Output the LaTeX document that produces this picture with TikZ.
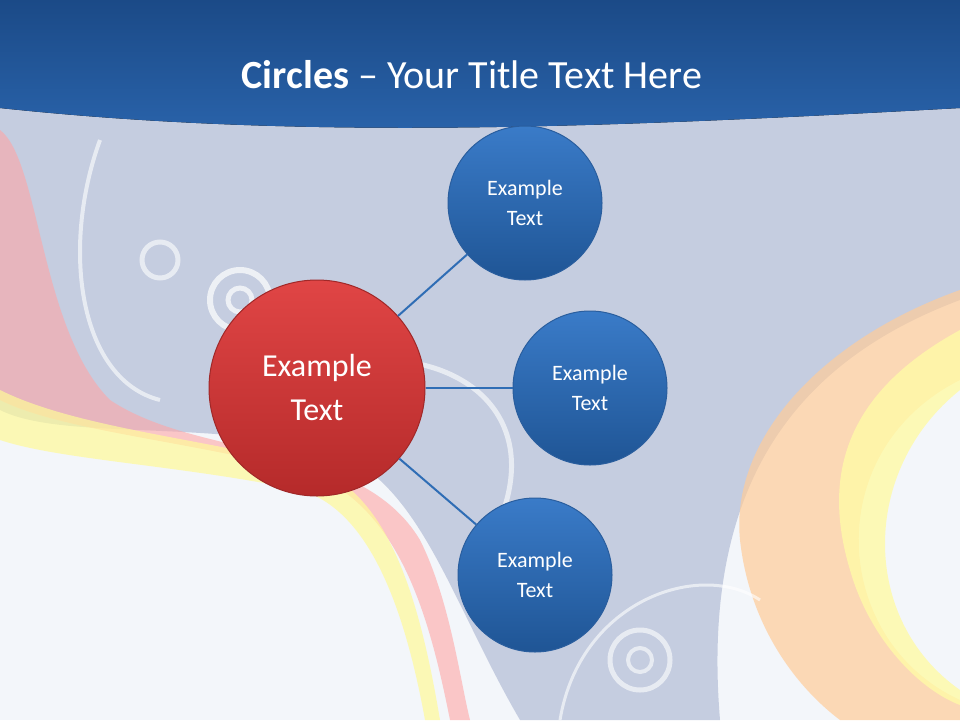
\documentclass[tikz,border=0pt]{standalone}
\usepackage{fontspec}
\setmainfont{Carlito}
\definecolor{hdrA}{HTML}{1B4A87}
\definecolor{hdrB}{HTML}{2A64AC}
\definecolor{cbA}{HTML}{3A7BC8}
\definecolor{cbB}{HTML}{1F5595}
\definecolor{cbE}{HTML}{2A5E9E}
\definecolor{crA}{HTML}{E04545}
\definecolor{crB}{HTML}{B52A2A}
\definecolor{crE}{HTML}{A02828}
\definecolor{bgG}{HTML}{C5CDE0}
\definecolor{bgW}{HTML}{F3F6FA}
\definecolor{lnk}{HTML}{2F6DB5}
\begin{document}
\begin{tikzpicture}[x=1pt,y=-1pt,
  bluec/.style={circle,minimum size=154pt,inner sep=0pt,draw=cbE,line width=1pt,top color=cbA,bottom color=cbB,text=white,align=center,font=\fontsize{22}{30}\selectfont},
  redc/.style={circle,minimum size=216pt,inner sep=0pt,draw=crE,line width=1pt,top color=crA,bottom color=crB,text=white,align=center,font=\fontsize{32}{44}\selectfont},
  link/.style={draw=lnk,line width=2pt}]
\useasboundingbox (0,0) rectangle (960,720);
% background
\fill[bgW] (0,0) rectangle (960,720);
\fill[bgG] (0,100) -- (960,100) -- (960,300) .. controls (800,360) and (700,480) .. (720,720) -- (520,720) .. controls (450,600) and (420,480) .. (330,450) .. controls (200,420) and (60,440) .. (0,410) -- cycle;
% left colored bands
\fill[red!35!white,opacity=0.6] (0,130) .. controls (40,160) and (40,330) .. (110,400) .. controls (200,460) and (360,440) .. (420,540) .. controls (450,600) and (460,680) .. (470,720) -- (450,720) .. controls (430,620) and (400,500) .. (300,470) .. controls (180,440) and (60,430) .. (0,400) -- cycle;
\fill[yellow!40!white,opacity=0.7] (0,390) .. controls (80,430) and (220,440) .. (320,470) .. controls (390,500) and (420,600) .. (440,720) -- (425,720) .. controls (405,610) and (370,510) .. (300,490) .. controls (180,465) and (60,460) .. (0,440) -- cycle;
% right colored bands
\fill[orange!40!white,opacity=0.7] (960,290) .. controls (820,340) and (730,440) .. (740,540) .. controls (750,630) and (800,690) .. (840,720) -- (960,720) -- (960,700) .. controls (830,640) and (820,450) .. (960,380) -- cycle;
\fill[yellow!35!white,opacity=0.8] (960,330) .. controls (850,390) and (820,470) .. (850,570) .. controls (870,640) and (920,690) .. (960,705) -- (960,690) .. controls (860,620) and (860,470) .. (960,390) -- cycle;
% swirls
\draw[white,line width=6pt,opacity=0.7] (240,300) circle (30);
\draw[white,line width=5pt,opacity=0.7] (240,300) circle (12);
\draw[white,line width=5pt,opacity=0.6] (160,260) circle (18);
\draw[white,line width=5pt,opacity=0.6] (640,660) circle (30);
\draw[white,line width=4pt,opacity=0.6] (640,660) circle (12);
\draw[white,line width=4pt,opacity=0.6] (100,140) .. controls (60,250) and (80,380) .. (160,400);
\draw[white,line width=5pt,opacity=0.6] (380,360) .. controls (470,360) and (540,420) .. (500,520);
\draw[white,line width=3pt,opacity=0.6] (560,720) .. controls (580,600) and (700,560) .. (760,600);
% header
\fill[top color=hdrA,bottom color=hdrB] (0,0) -- (960,0) -- (960,108) .. controls (600,128) and (300,140) .. (0,108) -- cycle;
\node[text=white,font=\fontsize{40}{46}\selectfont] (title) at (472,75) {\textbf{Circles} -- Your Title Text Here};
% nodes
\node[redc] (c) at (317,388) {Example\\Text};
\node[bluec] (a) at (525,203) {Example\\Text};
\node[bluec] (b) at (590,388) {Example\\Text};
\node[bluec] (d) at (535,575) {Example\\Text};
\draw[link] (c) -- (a);
\draw[link] (c) -- (b);
\draw[link] (c) -- (d);
\end{tikzpicture}
\end{document}
